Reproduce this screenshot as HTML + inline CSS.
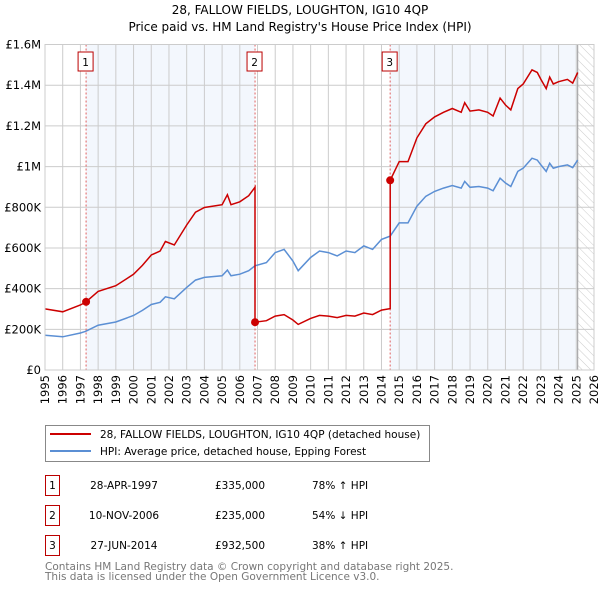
<!DOCTYPE html>
<html><head><meta charset="utf-8"><style>
body{margin:0;background:#fff;width:600px;height:590px;overflow:hidden;font-family:"DejaVu Sans","Liberation Sans",sans-serif;}
svg text{font-family:"DejaVu Sans","Liberation Sans",sans-serif;}
</style></head><body>
<svg id="chart" width="600" height="590" viewBox="0 0 600 590" xmlns="http://www.w3.org/2000/svg">
<text x="300" y="14" text-anchor="middle" font-size="12">28, FALLOW FIELDS, LOUGHTON, IG10 4QP</text>
<text x="300" y="31" text-anchor="middle" font-size="12">Price paid vs. HM Land Registry's House Price Index (HPI)</text>
<defs><pattern id="hatch" width="6" height="6" patternUnits="userSpaceOnUse" patternTransform="rotate(-45)"><line x1="0" y1="0" x2="0" y2="6" stroke="#ccc" stroke-width="1"/></pattern></defs>
<g id="plot"></g>
<g id="legend">
<rect x="45.5" y="425.5" width="384" height="36" fill="#fff" stroke="#888"/>
<line x1="50" y1="434" x2="91" y2="434" stroke="#cc0000" stroke-width="2"/>
<text x="100" y="438" font-size="10.5">28, FALLOW FIELDS, LOUGHTON, IG10 4QP (detached house)</text>
<line x1="50" y1="451" x2="91" y2="451" stroke="#5b8fd4" stroke-width="2"/>
<text x="100" y="455" font-size="10.5">HPI: Average price, detached house, Epping Forest</text>
</g>
<g id="table" font-size="10.5">
<rect x="45.5" y="475.5" width="14" height="20" fill="none" stroke="#b00"/><text x="52.5" y="489" text-anchor="middle">1</text>
<text x="124" y="489" text-anchor="middle">28-APR-1997</text>
<text x="240" y="489" text-anchor="middle">£335,000</text>
<text x="312" y="489">78% ↑ HPI</text>
<rect x="45.5" y="505.5" width="14" height="20" fill="none" stroke="#b00"/><text x="52.5" y="519" text-anchor="middle">2</text>
<text x="124" y="519" text-anchor="middle">10-NOV-2006</text>
<text x="240" y="519" text-anchor="middle">£235,000</text>
<text x="312" y="519">54% ↓ HPI</text>
<rect x="45.5" y="535.5" width="14" height="20" fill="none" stroke="#b00"/><text x="52.5" y="549" text-anchor="middle">3</text>
<text x="124" y="549" text-anchor="middle">27-JUN-2014</text>
<text x="240" y="549" text-anchor="middle">£932,500</text>
<text x="312" y="549">38% ↑ HPI</text>
</g>
<text x="45" y="570" font-size="10.5" fill="#777">Contains HM Land Registry data © Crown copyright and database right 2025.</text>
<text x="45" y="580" font-size="10.5" fill="#777">This data is licensed under the Open Government Licence v3.0.</text>
</svg>
<script>
const hpiYears=[1995,1996,1997,1997.3,1998,1999,2000,2000.5,2001,2001.5,2001.8,2002.3,2003,2003.5,2004,2005,2005.3,2005.5,2006,2006.5,2006.86,2007.5,2008,2008.5,2009,2009.3,2010,2010.5,2011,2011.5,2012,2012.5,2013,2013.5,2014,2014.49,2015,2015.5,2016,2016.5,2017,2017.5,2018,2018.5,2018.7,2019,2019.5,2020,2020.3,2020.7,2021,2021.3,2021.7,2022,2022.5,2022.8,2023,2023.3,2023.5,2023.7,2024,2024.5,2024.8,2025.08];
const hpiValues=[171,163,182,190,220,236,268,293,322,333,360,350,406,442,455,463,491,463,471,488,512,528,577,593,536,488,553,585,577,561,585,577,610,593,642,658,723,723,805,854,878,894,907,894,927,898,902,894,881,943,919,902,976,992,1041,1032,1008,976,1016,992,1000,1008,995,1032];
const saleYears=[1997.32,2006.86,2014.49];
const salePrices=[335,235,932.5];
const yTicks=[0,200,400,600,800,1000,1200,1400,1600];
const yTickLabels=["£0","£200K","£400K","£600K","£800K","£1M","£1.2M","£1.4M","£1.6M"];
const xTicks=[1995,1996,1997,1998,1999,2000,2001,2002,2003,2004,2005,2006,2007,2008,2009,2010,2011,2012,2013,2014,2015,2016,2017,2018,2019,2020,2021,2022,2023,2024,2025,2026];

const L=45,R=594,T=44.5,B=370,X0=1995,X1=2026,YMAX=1600,DATA_END=2025.08;
const xs=t=>L+(t-X0)/(X1-X0)*(R-L);
const ys=v=>B-v/YMAX*(B-T);
const NS="http://www.w3.org/2000/svg";
const g=document.getElementById('plot');
function mk(tag,attrs){const e=document.createElementNS(NS,tag);for(const k in attrs)e.setAttribute(k,attrs[k]);g.appendChild(e);return e;}
function hpiAt(t){for(let i=0;i<hpiYears.length-1;i++){if(t<=hpiYears[i+1]){const f=(t-hpiYears[i])/(hpiYears[i+1]-hpiYears[i]);return hpiValues[i]+f*(hpiValues[i+1]-hpiValues[i]);}}return hpiValues[hpiValues.length-1];}

let bg=mk('rect',{x:L,y:T,width:R-L,height:B-T,fill:'#fff'});


const s1=mk('rect',{x:xs(saleYears[0]),y:T,width:xs(saleYears[1])-xs(saleYears[0]),height:B-T,fill:'#eef3fc',opacity:0.7});


const s2=mk('rect',{x:xs(saleYears[2]),y:T,width:xs(DATA_END)-xs(saleYears[2]),height:B-T,fill:'#eef3fc',opacity:0.7});


const hz=mk('rect',{x:xs(DATA_END),y:T,width:R-xs(DATA_END),height:B-T,fill:'url(#hatch)'});



yTicks.forEach((v,i)=>{
  const ln=mk('line',{x1:L,x2:R,y1:ys(v),y2:ys(v),stroke:'#ccc','stroke-width':1});
  
  
  const tx=mk('text',{x:L-4,y:ys(v)+4,'text-anchor':'end','font-size':11.5});
  
  
  tx.textContent=yTickLabels[i];
});
xTicks.forEach(t=>{
  const ln=mk('line',{x1:xs(t),x2:xs(t),y1:T,y2:B,stroke:'#ccc','stroke-width':1});
  
  
  const tx=mk('text',{x:0,y:0,'text-anchor':'end','font-size':11.5,transform:`translate(${xs(t)+4},${B+5}) rotate(-90)`});
  
  
  tx.textContent=t;
});
const el=mk('line',{x1:xs(DATA_END),x2:xs(DATA_END),y1:T,y2:B,stroke:'#999','stroke-width':1});



saleYears.forEach((t,i)=>{
  const ln=mk('line',{x1:xs(t),x2:xs(t),y1:T,y2:B,stroke:'#e06060','stroke-width':1,'stroke-dasharray':'2,2'});
  
  
  const bx=mk('rect',{x:xs(t)-8,y:52,width:15,height:19,fill:'#fff',stroke:'#b00'});
  
  
  const tx=mk('text',{x:xs(t)-0.5,y:66,'text-anchor':'middle','font-size':10.5});
  
  
  tx.textContent=i+1;
});

// HPI line
const hp=hpiYears.map((t,i)=>xs(t).toFixed(1)+','+ys(hpiValues[i]).toFixed(1)).join(' ');
const hl=mk('polyline',{points:hp,fill:'none',stroke:'#5b8fd4','stroke-width':1.5});



// Property line: indexed from each sale
const ratios=saleYears.map((t,i)=>salePrices[i]/hpiAt(t));
function ratioAt(t){let r=ratios[0];for(let i=0;i<saleYears.length;i++)if(t>=saleYears[i])r=ratios[i];return r;}
let ts=hpiYears.slice();
saleYears.forEach(s=>{ts.push(s-0.0001);ts.push(s);});
ts.sort((a,b)=>a-b);
const rp=ts.map(t=>xs(t).toFixed(1)+','+ys(hpiAt(t)*ratioAt(t)).toFixed(1)).join(' ');
const rl=mk('polyline',{points:rp,fill:'none',stroke:'#cc0000','stroke-width':1.5});


saleYears.forEach((t,i)=>{
  const c=mk('circle',{cx:xs(t),cy:ys(salePrices[i]),r:4,fill:'#cc0000'});
  
  
});
const fr=mk('rect',{x:L,y:T,width:R-L,height:B-T,fill:'none',stroke:'#ccc'});


</script>
</body></html>
